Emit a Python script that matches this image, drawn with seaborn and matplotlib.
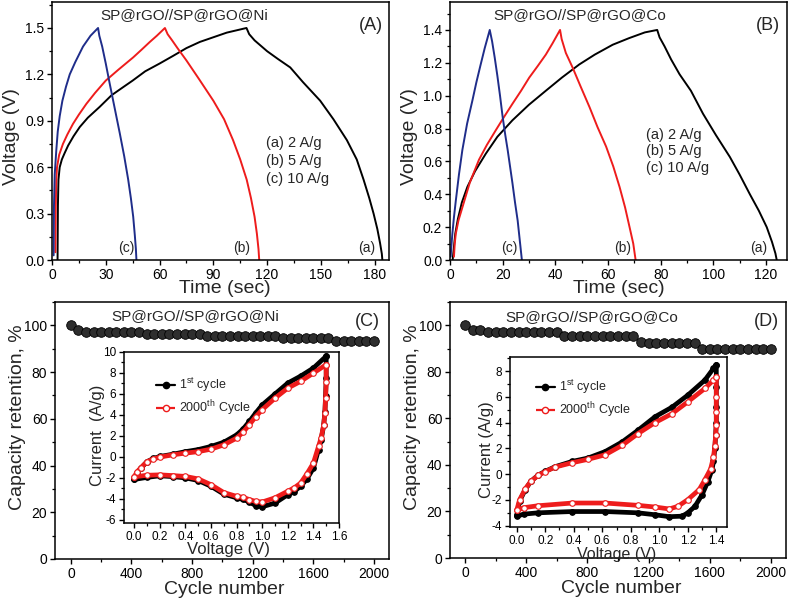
import matplotlib
matplotlib.use("Agg")
import matplotlib.pyplot as plt
import seaborn as sns
from matplotlib.ticker import MultipleLocator, AutoMinorLocator, FormatStrFormatter
from matplotlib.lines import Line2D

# ---------------- data ----------------
# Panel A: GCD, SP@rGO//SP@rGO@Ni (time s, voltage V)
A_a_t = [3.1, 3.3, 3.6, 4.3, 5.5, 7, 9, 12, 15.5, 20, 26.6, 33.2, 40, 45, 52, 60, 67.6,
         75, 82.5, 90, 97.5, 103, 108.5,
         110, 113, 120, 126, 132.9, 140, 149.6, 157, 164.5, 170, 173.8, 177, 179.4,
         181.5, 183, 184, 184.3]
A_a_v = [0.0, 0.35, 0.52, 0.60, 0.65, 0.69, 0.74, 0.80, 0.86, 0.92, 0.99, 1.065, 1.12,
         1.16, 1.22, 1.27, 1.32, 1.37, 1.41, 1.44, 1.47, 1.485, 1.50,
         1.46, 1.42, 1.35, 1.30, 1.245, 1.15, 1.03, 0.91, 0.775, 0.65, 0.52, 0.40, 0.30,
         0.20, 0.11, 0.04, 0.0]
A_b_t = [1.9, 2.1, 2.4, 2.8, 4, 6.1, 8.5, 11.7, 15, 19.2, 24, 30, 37, 45.3, 50, 54.6, 58.5, 63,
         64.5, 67, 70, 75, 82, 90, 96, 101, 105, 108.6, 111, 113, 114.3, 115.2, 115.6]
A_b_v = [0.05, 0.35, 0.52, 0.60, 0.68, 0.75, 0.81, 0.88, 0.94, 1.01, 1.08, 1.16, 1.23, 1.31,
         1.36, 1.41, 1.45, 1.50,
         1.46, 1.42, 1.37, 1.29, 1.17, 1.03, 0.91, 0.775, 0.65, 0.52, 0.40, 0.28, 0.17, 0.07, 0.0]
A_c_t = [0.9, 1.1, 1.5, 2.4, 3.2, 4.3, 5.8, 7.8, 9.9, 13, 17.3, 21.5, 25.7,
         26.4, 28, 30, 32.2, 35, 37.8, 40.3, 42.5, 44, 45.3, 46.2, 46.8, 47.1]
A_c_v = [0.03, 0.35, 0.55, 0.71, 0.83, 0.93, 1.03, 1.12, 1.20, 1.28, 1.38, 1.45, 1.50,
         1.45, 1.38, 1.27, 1.14, 0.98, 0.82, 0.67, 0.52, 0.40, 0.28, 0.16, 0.07, 0.0]

# Panel B: GCD, SP@rGO//SP@rGO@Co
B_a_t = [1.0, 1.5, 2.0, 3, 4.5, 6.6, 9.5, 13.6, 18, 23.7, 30, 36.4, 42.5, 49.1, 55, 61.8, 68,
         74, 78.7,
         79.6, 81.5, 84, 87.2, 91.5, 96.1, 101, 106.3, 110, 113.9, 117.3, 120.3, 122.3,
         123.6, 124.1]
B_a_v = [0.0, 0.08, 0.16, 0.25, 0.35, 0.445, 0.54, 0.647, 0.75, 0.85, 0.945, 1.03, 1.11,
         1.19, 1.25, 1.31, 1.35, 1.385, 1.40,
         1.355, 1.30, 1.22, 1.13, 1.03, 0.89, 0.76, 0.627, 0.52, 0.40, 0.30, 0.20, 0.11,
         0.04, 0.0]
B_b_t = [1.5, 1.8, 2.2, 3.2, 4.7, 7.5, 11.0, 14, 17.4, 20.5, 23.7, 27, 30.1, 33.3, 36.4, 39,
         41.8,
         42.4, 44, 46.6, 49.5, 53, 56, 59.3, 62, 64.4, 66.5, 68.2, 69.6, 70.5]
B_b_v = [0.02, 0.10, 0.16, 0.24, 0.32, 0.47, 0.61, 0.70, 0.79, 0.87, 0.95, 1.03, 1.11, 1.18,
         1.25, 1.32, 1.40,
         1.345, 1.26, 1.17, 1.06, 0.93, 0.81, 0.69, 0.57, 0.445, 0.32, 0.20, 0.10, 0.0]
B_c_t = [0.25, 0.5, 0.9, 1.5, 2.2, 3.4, 4.7, 6.5, 8.5, 10, 11.5, 13.2, 15.1,
         16.0, 17.0, 18.0, 19.0, 20.0, 21.0, 21.9, 22.8, 23.7, 24.7, 25.7, 26.5, 27.3]
B_c_v = [0.02, 0.08, 0.16, 0.26, 0.36, 0.52, 0.67, 0.83, 0.97, 1.08, 1.18, 1.29, 1.40,
         1.33, 1.23, 1.12, 1.00, 0.87, 0.76, 0.67, 0.57, 0.47, 0.35, 0.24, 0.12, 0.0]

# Panel C/D: capacity retention vs cycle number
cycles = list(range(0, 2001, 50))
ret_Ni = [100, 98.2] + [97.1] * 8 + [96.3] * 8 + [95.6] * 10 + [94.5] * 7 + [93.1] * 6
ret_Co = [100, 98.1, 98.1] + [97.2] * 10 + [95.3] * 10 + [93.0] + [92.2] * 7 + [89.9] * 10

# Inset C: CV, 1st vs 2000th cycle (V, A/g)
C_fwd_v = [0.00, 0.02, 0.05, 0.10, 0.15, 0.20, 0.30, 0.40, 0.50, 0.60, 0.70,
           0.80, 0.85, 0.90, 0.95, 1.00, 1.10, 1.20, 1.30, 1.40, 1.50]
C1_fwd_i = [-2.15, -1.55, -1.10, -0.45, -0.15, 0.04, 0.25, 0.50, 0.70, 1.00, 1.40,
            2.10, 2.65, 3.39, 4.20, 4.95, 6.00, 7.04, 7.70, 8.47, 9.60]
C2_fwd_i = [-1.90, -1.45, -1.05, -0.45, -0.20, -0.02, 0.20, 0.36, 0.50, 0.74, 1.15,
            1.79, 2.35, 3.07, 3.85, 4.50, 5.60, 6.56, 7.20, 7.99, 8.80]
C_rev_v = [1.50, 1.50, 1.495, 1.49, 1.48, 1.46, 1.44, 1.40, 1.35, 1.30, 1.25, 1.20, 1.10,
           1.00, 0.95, 0.90, 0.85, 0.80, 0.70, 0.60, 0.50, 0.40, 0.30, 0.20, 0.10, 0.00]
C1_rev_i = [9.60, 7.50, 5.80, 4.30, 3.00, 1.60, 0.70, -1.07, -2.10, -2.80, -3.30, -3.60, -4.40,
            -4.75, -4.65, -4.30, -4.05, -3.90, -3.55, -2.80, -2.25, -2.00, -1.88, -1.80, -1.95, -2.15]
C2_rev_i = [8.80, 7.10, 5.60, 4.20, 3.00, 1.80, 1.00, -0.59, -1.60, -2.50, -2.95, -3.27, -3.90,
            -4.30, -4.25, -4.07, -3.85, -3.76, -3.40, -2.65, -2.10, -1.86, -1.78, -1.71, -1.75, -1.90]

# Inset D
D_fwd_v = [0.00, 0.02, 0.06, 0.10, 0.15, 0.20, 0.27, 0.39, 0.50, 0.62, 0.74, 0.85,
           0.97, 1.09, 1.20, 1.32, 1.38, 1.40]
D1_fwd_i = [-3.20, -2.10, -1.20, -0.55, -0.08, 0.22, 0.58, 0.99, 1.25, 1.75, 2.50, 3.40,
            4.45, 5.20, 6.13, 7.30, 8.20, 8.50]
D2_fwd_i = [-2.80, -2.00, -1.14, -0.55, -0.10, 0.20, 0.55, 0.89, 1.15, 1.50, 2.24, 3.14,
            4.00, 4.70, 5.61, 6.65, 7.30, 7.50]
D1_rev_v = [1.40, 1.40, 1.40, 1.40, 1.395, 1.39, 1.38, 1.37, 1.34, 1.30, 1.25, 1.20, 1.16,
            1.07, 0.97, 0.85, 0.62, 0.39, 0.15, 0.05, 0.00]
D1_rev_i = [8.50, 6.80, 5.20, 4.00, 3.00, 2.00, 1.00, 0.35, -0.60, -1.60, -2.50, -3.00, -3.26,
            -3.30, -3.15, -3.00, -2.90, -2.90, -3.00, -3.10, -3.26]
D2_rev_v = [1.40, 1.40, 1.40, 1.40, 1.395, 1.39, 1.38, 1.36, 1.32, 1.28, 1.20, 1.13, 1.07,
            0.97, 0.85, 0.62, 0.39, 0.15, 0.05, 0.00]
D2_rev_i = [7.50, 6.00, 4.80, 3.80, 3.00, 2.20, 1.30, 0.40, -0.43, -1.20, -1.98, -2.50, -2.70,
            -2.55, -2.42, -2.24, -2.24, -2.45, -2.60, -2.80]

# ---------------- style ----------------
sns.set_style("ticks")
plt.rcParams["font.family"] = ["Liberation Sans", "DejaVu Sans"]
plt.rcParams["mathtext.default"] = "regular"
plt.rcParams["axes.unicode_minus"] = False
plt.rcParams["axes.linewidth"] = 1.1
plt.rcParams["axes.edgecolor"] = "black"
for ax_ in ("xtick", "ytick"):
    plt.rcParams[f"{ax_}.color"] = "black"
    plt.rcParams[f"{ax_}.major.size"] = 3.5
    plt.rcParams[f"{ax_}.minor.size"] = 2.0
    plt.rcParams[f"{ax_}.major.width"] = 1.0
    plt.rcParams[f"{ax_}.minor.width"] = 0.9
    plt.rcParams[f"{ax_}.direction"] = "out"

RED = "#ee1c1c"
BLUE = "#1f2d8a"

W, H = 792, 606
fig = plt.figure(figsize=(W / 100, H / 100), dpi=100)


def box(l, t, r, b):
    return [l / W, 1 - b / H, (r - l) / W, (b - t) / H]


def ftext(x, y, s, **kw):
    fig.text(x / W, 1 - y / H, s, **kw)


def style(ax, xmaj, ymaj, size=10):
    ax.xaxis.set_major_locator(MultipleLocator(xmaj))
    ax.yaxis.set_major_locator(MultipleLocator(ymaj))
    ax.xaxis.set_minor_locator(AutoMinorLocator(2))
    ax.yaxis.set_minor_locator(AutoMinorLocator(2))
    ax.tick_params(labelsize=size, pad=2)
    ax.tick_params(which="both", top=False, right=False)
    for s in ax.spines.values():
        s.set_visible(True)
        s.set_color("black")


def gcd(ax, t, v, color):
    sns.lineplot(x=t, y=v, sort=False, estimator=None, color=color, lw=1.4, ax=ax)


# ---------- Panel A ----------
axA = fig.add_axes(box(52, 2, 389, 260))
gcd(axA, A_a_t, A_a_v, "black")
gcd(axA, A_b_t, A_b_v, RED)
gcd(axA, A_c_t, A_c_v, BLUE)
axA.set_xlim(0, 188)
axA.set_ylim(0, 1.668)
style(axA, 30, 0.3)
axA.yaxis.set_major_formatter(FormatStrFormatter("%.1f"))
axA.set_xlabel("Time (sec)", fontsize=14)
axA.set_ylabel("Voltage (V)", fontsize=14)
axA.xaxis.set_label_coords(0.513, -0.078)
axA.yaxis.set_label_coords(-0.095, 0.48)

# ---------- Panel B ----------
axB = fig.add_axes(box(450, 2, 787, 260))
gcd(axB, B_a_t, B_a_v, "black")
gcd(axB, B_b_t, B_b_v, RED)
gcd(axB, B_c_t, B_c_v, BLUE)
axB.set_xlim(0, 128)
axB.set_ylim(0, 1.57)
style(axB, 20, 0.2)
axB.yaxis.set_major_formatter(FormatStrFormatter("%.1f"))
axB.set_xlabel("Time (sec)", fontsize=14)
axB.set_ylabel("Voltage (V)", fontsize=14)
axB.xaxis.set_label_coords(0.5, -0.078)
axB.yaxis.set_label_coords(-0.095, 0.48)

# ---------- Panel C ----------
axC = fig.add_axes(box(55, 302, 389, 559))
sns.scatterplot(x=cycles, y=ret_Ni, ax=axC, s=48, color="#2e2e2e", edgecolor="black",
                linewidth=0.6, zorder=3)
axC.set_xlim(-105, 2100)
axC.set_ylim(0, 110)
style(axC, 400, 20)
axC.set_xlabel("Cycle number", fontsize=14)
axC.set_ylabel("Capacity retention, %", fontsize=14)
axC.xaxis.set_label_coords(0.506, -0.085)
axC.yaxis.set_label_coords(-0.088, 0.55)

# ---------- Panel D ----------
axD = fig.add_axes(box(450, 302, 786, 558))
sns.scatterplot(x=cycles, y=ret_Co, ax=axD, s=48, color="#2e2e2e", edgecolor="black",
                linewidth=0.6, zorder=3)
axD.set_xlim(-98, 2098)
axD.set_ylim(0, 110)
style(axD, 400, 20)
axD.set_xlabel("Cycle number", fontsize=14)
axD.set_ylabel("Capacity retention, %", fontsize=14)
axD.xaxis.set_label_coords(0.509, -0.085)
axD.yaxis.set_label_coords(-0.087, 0.55)


def cv(ax, v, i, color, filled):
    sns.lineplot(x=v, y=i, sort=False, estimator=None, color=color, lw=3.4, ax=ax,
                 marker="o", markersize=4.0,
                 markerfacecolor=color if filled else "white",
                 markeredgecolor=color, markeredgewidth=0.8)


def cv_legend(ax, anchor):
    h1 = Line2D([], [], color="black", lw=1.6, marker="o", markersize=4.5,
                markerfacecolor="black")
    h2 = Line2D([], [], color=RED, lw=1.6, ls="--", marker="o", markersize=4.5,
                markerfacecolor="white", markeredgecolor=RED)
    ax.legend([h1, h2], [r"1$^{st}$ cycle", r"2000$^{th}$ Cycle"], loc="upper left",
              bbox_to_anchor=anchor, frameon=False, fontsize=9, handlelength=1.5,
              handletextpad=0.3, labelspacing=0.35, borderpad=0, borderaxespad=0)


# ---------- Inset C ----------
inC = fig.add_axes(box(124, 352, 339, 523))
cv(inC, C_fwd_v + C_rev_v, C1_fwd_i + C1_rev_i, "black", True)
cv(inC, C_fwd_v + C_rev_v, C2_fwd_i + C2_rev_i, RED, False)
inC.set_xlim(-0.08, 1.6)
inC.set_ylim(-6.3, 10)
style(inC, 0.2, 2, size=8.5)
inC.xaxis.set_major_formatter(FormatStrFormatter("%.1f"))
inC.set_xlabel("Voltage (V)", fontsize=12)
inC.set_ylabel("Current  (A/g)", fontsize=12)
inC.xaxis.set_label_coords(0.488, -0.11)
inC.yaxis.set_label_coords(-0.09, 0.515)
cv_legend(inC, (0.15, 0.86))

# ---------- Inset D ----------
inD = fig.add_axes(box(510, 357, 727, 527))
cv(inD, D_fwd_v + D1_rev_v, D1_fwd_i + D1_rev_i, "black", True)
cv(inD, D_fwd_v + D2_rev_v, D2_fwd_i + D2_rev_i, RED, False)
inD.set_xlim(-0.047, 1.475)
inD.set_ylim(-4.1, 9.09)
style(inD, 0.2, 2, size=8.5)
inD.xaxis.set_major_formatter(FormatStrFormatter("%.1f"))
inD.set_xlabel("Voltage (V)", fontsize=11.5)
inD.set_ylabel("Current (A/g)", fontsize=12)
inD.xaxis.set_label_coords(0.49, -0.118)
inD.yaxis.set_label_coords(-0.075, 0.455)
cv_legend(inD, (0.12, 0.875))

# ---------- annotations ----------
ftext(184, 15.5, "SP@rGO//SP@rGO@Ni", fontsize=11, ha="center", va="center")
ftext(371, 25, "(A)", fontsize=13, ha="center", va="center")
ftext(580, 15.5, "SP@rGO//SP@rGO@Co", fontsize=11, ha="center", va="center")
ftext(768, 26, "(B)", fontsize=13, ha="center", va="center")
ftext(195, 316, "SP@rGO//SP@rGO@Ni", fontsize=11, ha="center", va="center")
ftext(367, 321, "(C)", fontsize=13, ha="center", va="center")
ftext(592, 317, "SP@rGO//SP@rGO@Co", fontsize=11, ha="center", va="center")
ftext(766, 322, "(D)", fontsize=13, ha="center", va="center")

for k, s in enumerate(["(a) 2 A/g", "(b) 5 A/g", "(c) 10 A/g"]):
    ftext(266, 143 + 18 * k, s, fontsize=10.5, ha="left", va="center")
    ftext(646, 135 + 16.5 * k, s, fontsize=10.5, ha="left", va="center")

for x, s in [(126, "(c)"), (242, "(b)"), (367, "(a)"),
             (509, "(c)"), (623, "(b)"), (759, "(a)")]:
    ftext(x, 248, s, fontsize=10, ha="center", va="center")

fig.savefig("out.png", dpi=100)
